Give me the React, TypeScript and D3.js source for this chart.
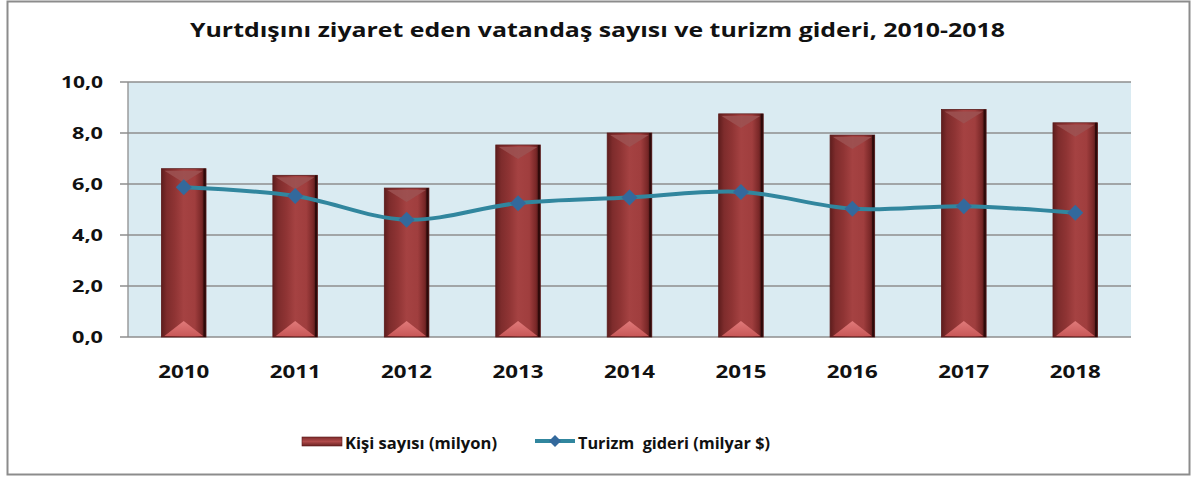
import React from "react";
import * as d3 from "d3";

const years = ["2010", "2011", "2012", "2013", "2014", "2015", "2016", "2017", "2018"];
const visitors = [6.6, 6.34, 5.84, 7.53, 8.0, 8.75, 7.92, 8.92, 8.4];
const spending = [5.87, 5.53, 4.6, 5.25, 5.47, 5.69, 5.03, 5.13, 4.87];
const yTicks = [0, 2, 4, 6, 8, 10];

const title = "Yurtdışını ziyaret eden vatandaş sayısı ve turizm gideri, 2010-2018";
const legendBar = "Kişi sayısı (milyon)";
const legendLine = "Turizm  gideri (milyar $)";

const W = 1198;
const H = 477;
const plot = { left: 128, right: 1131, top: 82, bottom: 337 };
const FONT = "'Open Sans', 'Noto Sans', sans-serif";

export default function App() {
  const x = d3
    .scaleBand<string>()
    .domain(years)
    .range([plot.left, plot.right])
    .paddingInner(0.6)
    .paddingOuter(0.3);
  const y = d3.scaleLinear().domain([0, 10]).range([plot.bottom, plot.top]);
  const fmt = (v: number) => d3.format(".1f")(v).replace(".", ",");

  const pts: [number, number][] = years.map((yr, i) => [
    (x(yr) as number) + x.bandwidth() / 2,
    y(spending[i]),
  ]);
  const line = d3.line().curve(d3.curveCatmullRom.alpha(0.5))(pts) as string;

  const diamond = (cx: number, cy: number, r: number) =>
    `M${cx},${cy - r}L${cx + r},${cy}L${cx},${cy + r}L${cx - r},${cy}Z`;

  const bw = x.bandwidth();

  return (
    <svg
      width={W}
      height={H}
      style={{ position: "absolute", left: 0, top: 0, background: "#fff" }}
    >
      <defs>
        <linearGradient id="barGrad" x1="0" x2="1" y1="0" y2="0">
          <stop offset="0" stopColor="#5e1d1d" />
          <stop offset="0.12" stopColor="#7e2c2c" />
          <stop offset="0.3" stopColor="#8f3434" />
          <stop offset="0.5" stopColor="#a54242" />
          <stop offset="0.75" stopColor="#a03e3e" />
          <stop offset="0.9" stopColor="#7a2828" />
          <stop offset="1" stopColor="#3a1010" />
        </linearGradient>
        <linearGradient id="botGrad" x1="0" x2="0" y1="0" y2="1">
          <stop offset="0" stopColor="#e07a7a" />
          <stop offset="1" stopColor="#c85858" />
        </linearGradient>
        <linearGradient id="legGrad" x1="0" x2="0" y1="0" y2="1">
          <stop offset="0" stopColor="#7e2c2c" />
          <stop offset="0.5" stopColor="#b04a4a" />
          <stop offset="1" stopColor="#6a2222" />
        </linearGradient>
      </defs>

      {/* outer frame */}
      <rect x={7.5} y={1.5} width={1182} height={473} fill="#fff" stroke="#8c8c8c" strokeWidth={2} />

      {/* title */}
      <text
        x={190}
        y={37}
        fontFamily={FONT}
        fontWeight="bold"
        fontSize={19}
        fill="#111"
        textLength={815}
        lengthAdjust="spacingAndGlyphs"
      >
        {title}
      </text>

      {/* plot background */}
      <rect
        x={plot.left}
        y={plot.top}
        width={plot.right - plot.left}
        height={plot.bottom - plot.top}
        fill="#daebf2"
      />

      {/* gridlines + y labels */}
      {yTicks.map((t) => {
        const label = fmt(t);
        const tw = label.length === 4 ? 42 : 31;
        return (
          <g key={t}>
            <line
              x1={plot.left - 8}
              x2={plot.right}
              y1={y(t)}
              y2={y(t)}
              stroke="#8e8e8e"
              strokeWidth={1.3}
            />
            <text
              x={103 - tw}
              y={y(t) + 6}
              fontFamily={FONT}
              fontWeight="bold"
              fontSize={16.5}
              fill="#111"
              textLength={tw}
              lengthAdjust="spacingAndGlyphs"
            >
              {label}
            </text>
          </g>
        );
      })}
      <line x1={plot.left} x2={plot.left} y1={plot.top} y2={plot.bottom} stroke="#8e8e8e" strokeWidth={1.3} />

      {/* bars */}
      {years.map((yr, i) => {
        const x0 = x(yr) as number;
        const top = y(visitors[i]);
        const bot = y(0);
        const cx = x0 + bw / 2;
        return (
          <g key={yr}>
            <rect x={x0} y={top} width={bw} height={bot - top} fill="url(#barGrad)" />
            <rect x={x0} y={top} width={bw} height={bot - top} fill="none" stroke="#5a1a1a" strokeWidth={0.8} />
            <path
              d={`M${x0 + 3},${top + 2}L${x0 + bw - 3},${top + 2}L${cx},${top + 14}Z`}
              fill="#9c5252"
              opacity={0.85}
            />
            <path
              d={`M${x0 + 3},${bot - 1}L${x0 + bw - 3},${bot - 1}L${cx},${bot - 16}Z`}
              fill="url(#botGrad)"
            />
            <line x1={x0 + bw - 1.5} x2={x0 + bw - 1.5} y1={top} y2={bot} stroke="#2e0a0a" strokeWidth={2} />
          </g>
        );
      })}

      {/* line series */}
      <path d={line} fill="none" stroke="#31869e" strokeWidth={4} strokeLinejoin="round" />
      {pts.map(([px, py], i) => (
        <path key={i} d={diamond(px, py, 8)} fill="#33699c" />
      ))}

      {/* x labels */}
      {years.map((yr) => (
        <text
          key={yr}
          x={(x(yr) as number) + bw / 2 - 25.5}
          y={378}
          fontFamily={FONT}
          fontWeight="bold"
          fontSize={18}
          fill="#111"
          textLength={51}
          lengthAdjust="spacingAndGlyphs"
        >
          {yr}
        </text>
      ))}

      {/* legend */}
      <rect x={302} y={437} width={40} height={9} fill="url(#legGrad)" stroke="#5a1a1a" strokeWidth={0.6} />
      <text
        x={345}
        y={449}
        fontFamily={FONT}
        fontWeight="bold"
        fontSize={16.5}
        fill="#111"
        textLength={152}
        lengthAdjust="spacingAndGlyphs"
      >
        {legendBar}
      </text>
      <line x1={535} x2={575} y1={441} y2={441} stroke="#31869e" strokeWidth={4} />
      <path d={diamond(555, 441, 6)} fill="#33699c" />
      <text
        x={578}
        y={449}
        fontFamily={FONT}
        fontWeight="bold"
        fontSize={16.5}
        fill="#111"
        textLength={192}
        lengthAdjust="spacingAndGlyphs"
        style={{ whiteSpace: "pre" }}
      >
        {legendLine}
      </text>
    </svg>
  );
}
